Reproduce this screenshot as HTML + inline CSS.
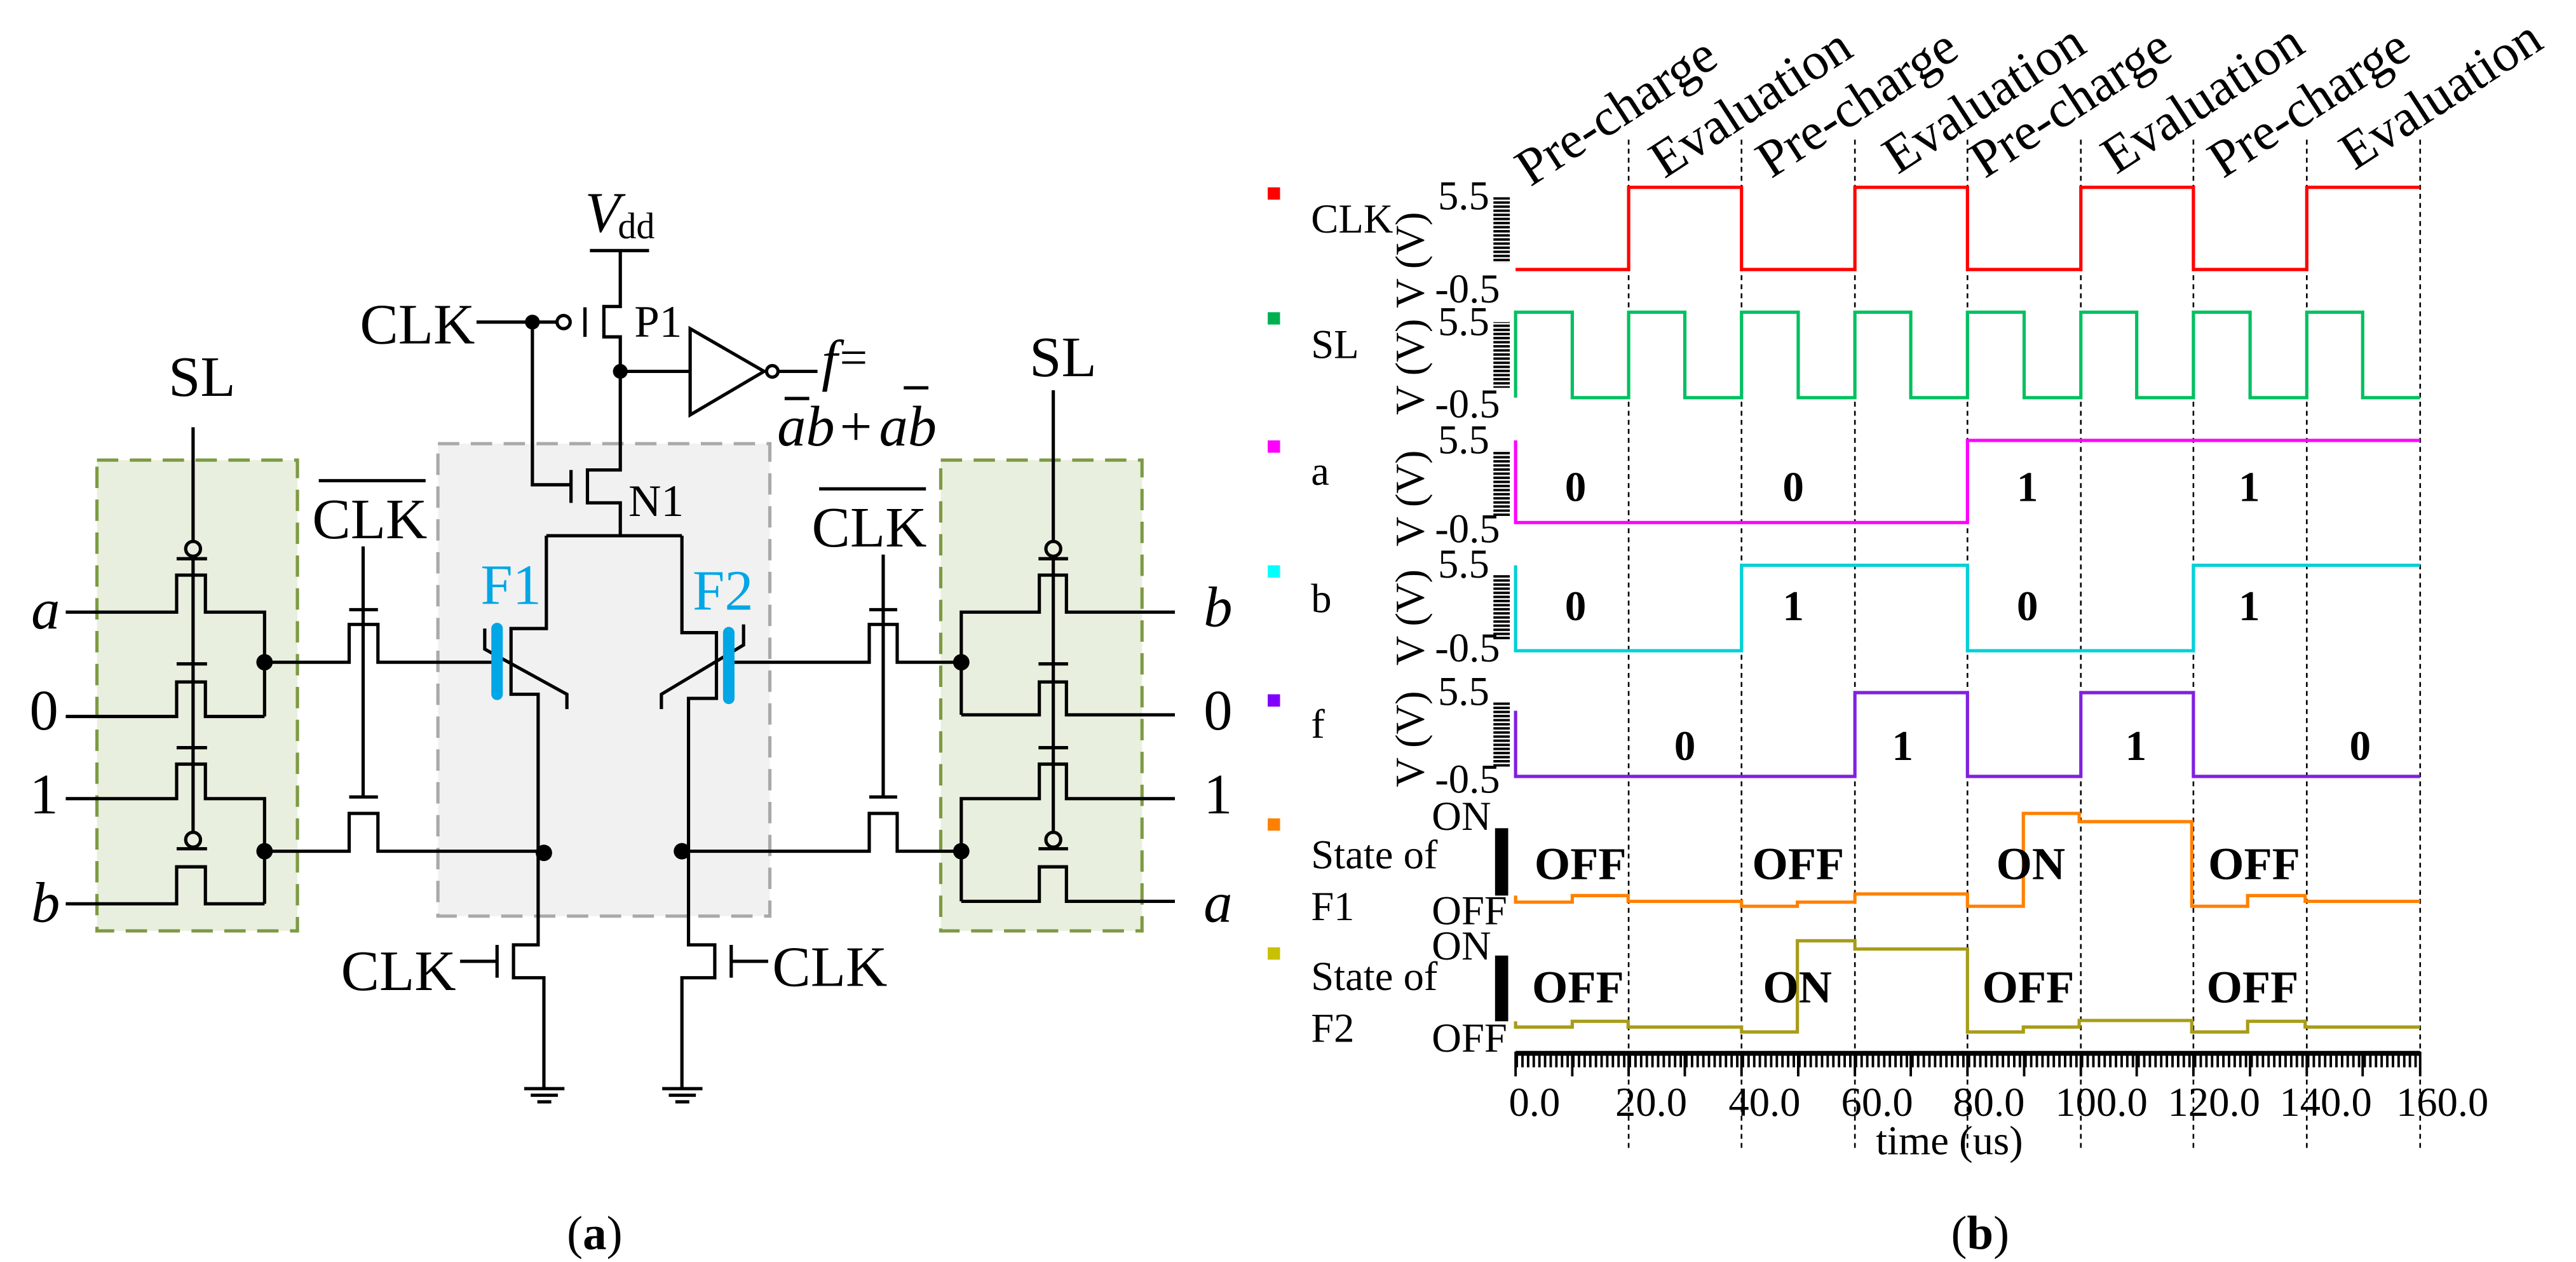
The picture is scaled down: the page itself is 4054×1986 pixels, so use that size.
<!DOCTYPE html>
<html><head><meta charset="utf-8"><style>
html,body{margin:0;padding:0;background:#fff;}
svg{display:block;}
text{font-family:"Liberation Serif",serif;fill:#000;}
</style></head><body>
<svg width="4054" height="1986" viewBox="0 0 4054 1986" xmlns="http://www.w3.org/2000/svg">
<defs>
<pattern id="tk" width="20" height="5" patternUnits="userSpaceOnUse"><rect width="20" height="3" fill="#000"/></pattern>
</defs>
<!-- LEFT PANEL -->
<g transform="scale(1.293)">
<rect x="533" y="540" width="404" height="575" fill="#f1f1f1" stroke="#a9a9a9" stroke-width="4" stroke-dasharray="26,14"/>
<rect x="118" y="560" width="244" height="573" fill="#e9efde" stroke="#7d9a42" stroke-width="4" stroke-dasharray="26,14"/>
<rect x="1145" y="560" width="245" height="573" fill="#e9efde" stroke="#7d9a42" stroke-width="4" stroke-dasharray="26,14"/>
<g fill="none" stroke="#000" stroke-width="4">
<path d="M718 305H790M755 305V373H735V410H755V572H715V612H755V652"/>
<path d="M712 374V410"/>
<circle cx="686" cy="392" r="8"/>
<path d="M580 392H678M648 392V590H695M695 572V612"/>
<path d="M755 452H840"/>
<path d="M840 400L930 452L840 505Z"/>
<circle cx="940" cy="452" r="7"/>
<path d="M947 452H995"/>
<path d="M665 652H830"/>
<path d="M665 652V765H622V845H655V1150H625V1190H662V1325"/>
<path d="M590 765V790L690 845V863"/>
<path d="M830 652V770H872V850H838V1150H870V1190H830V1325"/>
<path d="M905 760V785L805 845V863"/>
<path d="M605 1150V1190M560 1170H605"/>
<path d="M890 1150V1190M890 1170H935"/>
<path d="M638 1325H687M646 1333H679M654 1341H671"/>
<path d="M806 1325H855M814 1333H847M822 1341H839"/>
<path d="M322 806H425V760H460V806H605"/>
<path d="M322 1036H425V990H460V1036H662"/>
<path d="M442 665V742M425 742H460M442 742V970M425 970H460"/>
<path d="M890 806H1058V760H1092V806H1170"/>
<path d="M830 1036H1058V990H1092V1036H1170"/>
<path d="M1075 675V742M1058 742H1092M1075 742V970M1058 970H1092"/>
<path d="M235 520V660M235 677V1013"/>
<circle cx="235" cy="668" r="9"/>
<circle cx="235" cy="1022" r="9"/>
<path d="M215 680H252M215 808H252M215 910H252M215 1033H252"/>
<path d="M80 745H215V700H250V745H322V872"/>
<path d="M80 872H215V830H250V872H322"/>
<path d="M80 972H215V930H250V972H322V1100"/>
<path d="M80 1100H215V1055H250V1100H322"/>
<path d="M1282 475V660M1282 677V1013"/>
<circle cx="1282" cy="668" r="9"/>
<circle cx="1282" cy="1022" r="9"/>
<path d="M1264 680H1300M1264 808H1300M1264 910H1300M1264 1033H1300"/>
<path d="M1170 870V745H1265V700H1298V745H1430"/>
<path d="M1170 870H1265V830H1298V870H1430"/>
<path d="M1170 1097V972H1265V930H1298V972H1430"/>
<path d="M1170 1097H1265V1055H1298V1097H1430"/>
<path d="M388 585H518M997 595H1127"/>
<path d="M955 485H985M1100 472H1130"/>
</g>
<g stroke="#00a6e6" stroke-width="14" stroke-linecap="round">
<path d="M605 765V845M887 770V850"/>
</g>
<g fill="#000">
<circle cx="648" cy="392" r="9"/><circle cx="755" cy="452" r="9"/>
<circle cx="322" cy="806" r="10"/><circle cx="322" cy="1036" r="10"/>
<circle cx="662" cy="1038" r="10"/><circle cx="830" cy="1036" r="10"/>
<circle cx="1170" cy="806" r="10"/><circle cx="1170" cy="1036" r="10"/>
</g>
<g font-size="70">
<text x="712" y="282" font-style="italic">V</text><text x="752" y="290" font-size="45">dd</text>
<text x="438" y="418">CLK</text>
<text x="772" y="410" font-size="55">P1</text>
<text x="1000" y="462" font-style="italic">f</text><text x="1022" y="455" font-size="60">=</text>
<text x="946" y="542" font-style="italic">ab</text><text x="1022" y="542">+</text><text x="1070" y="542" font-style="italic">ab</text>
<text x="765" y="628" font-size="55">N1</text>
<text x="205" y="482">SL</text>
<text x="1253" y="458">SL</text>
<text x="380" y="655">CLK</text>
<text x="988" y="665">CLK</text>
<text x="585" y="735" style="fill:#00a6e6">F1</text>
<text x="843" y="742" style="fill:#00a6e6">F2</text>
<text x="38" y="765" font-style="italic">a</text>
<text x="36" y="888">0</text>
<text x="36" y="990">1</text>
<text x="38" y="1122" font-style="italic">b</text>
<text x="1465" y="762" font-style="italic">b</text>
<text x="1465" y="888">0</text>
<text x="1465" y="990">1</text>
<text x="1465" y="1122" font-style="italic">a</text>
<text x="415" y="1205">CLK</text>
<text x="940" y="1200">CLK</text>
<text x="690" y="1520" font-size="58">(<tspan font-weight="bold">a</tspan>)</text>
</g>
<rect x="1543" y="228" width="15" height="15" fill="#f00"/>
<rect x="1543" y="380" width="15" height="15" fill="#00b050"/>
<rect x="1543" y="536" width="15" height="15" fill="#f0f"/>
<rect x="1543" y="688" width="15" height="15" fill="#0ff"/>
<rect x="1543" y="845" width="15" height="15" fill="#8000ff"/>
<rect x="1543" y="996" width="15" height="15" fill="#ff8000"/>
<rect x="1543" y="1153" width="15" height="15" fill="#c8c000"/>
</g>
<!-- RIGHT PANEL -->
<g transform="translate(2027,0) scale(1.293)">
<g stroke="#000" stroke-width="2" stroke-dasharray="6,5">
<path d="M414.6 170V1400M552 170V1400M690 170V1400M827 170V1400M965 170V1400M1102 170V1400M1240 170V1400M1378 170V1400"/>
</g>
<g font-size="64">
<text transform="translate(295,228) rotate(-33)">Pre-charge</text>
<text transform="translate(458,218) rotate(-33)">Evaluation</text>
<text transform="translate(588,218) rotate(-33)">Pre-charge</text>
<text transform="translate(742,213) rotate(-33)">Evaluation</text>
<text transform="translate(848,218) rotate(-33)">Pre-charge</text>
<text transform="translate(1008,213) rotate(-33)">Evaluation</text>
<text transform="translate(1138,218) rotate(-33)">Pre-charge</text>
<text transform="translate(1298,208) rotate(-33)">Evaluation</text>
</g>
<g fill="none" stroke-width="4">
<path stroke="#f00" d="M277 328H414.6V228H552V328H690V228H827V328H965V228H1102V328H1240V228H1378"/>
<path stroke="#00c060" d="M277 484V380H346V484H414.6V380H483V484H552V380H621V484H690V380H758V484H827V380H896V484H965V380H1033V484H1102V380H1171V484H1240V380H1308V484H1378"/>
<path stroke="#f0f" d="M277 536V636H827V536H1378"/>
<path stroke="#00d0d8" d="M277 688V792H552V688H827V792H1102V688H1378"/>
<path stroke="#8020e0" d="M277 865V945H690V843H827V945H965V843H1102V945H1378"/>
<path stroke="#ff8000" d="M277 1090V1098H346V1090H414V1097H552V1103H620V1098H690V1088H827V1103H895V990H963V1000H1100V1103H1168V1090H1238V1097H1378"/>
<path stroke="#a89c18" d="M277 1243V1250H346V1243H414V1250H552V1256H620V1145H690V1155H827V1256H895V1250H963V1242H1100V1256H1168V1243H1238V1250H1378"/>
</g>
<g fill="url(#tk)">
<rect x="250" y="240" width="20" height="80"/>
<rect x="250" y="392" width="20" height="80"/>
<rect x="250" y="548" width="20" height="80"/>
<rect x="250" y="700" width="20" height="80"/>
<rect x="250" y="855" width="20" height="80"/>
</g>
<rect x="252" y="1008" width="16" height="82" fill="#000"/>
<rect x="252" y="1163" width="16" height="80" fill="#000"/>
<path d="M277 1282H1378" stroke="#000" stroke-width="6"/>
<g stroke="#000" stroke-width="3">
<path d="M277 1280V1310M346 1280V1310M414.6 1280V1310M483 1280V1310M552 1280V1310M621 1280V1310M690 1280V1310M758 1280V1310M827 1280V1310M896 1280V1310M965 1280V1310M1033 1280V1310M1102 1280V1310M1171 1280V1310M1240 1280V1310M1308 1280V1310M1378 1280V1310"/>
</g>
<path d="M277 1290H1378" stroke="#000" stroke-width="18" stroke-dasharray="3,3.88"/>
<g font-size="50">
<g text-anchor="end">
<text x="245" y="255">5.5</text><text x="258" y="368">-0.5</text>
<text x="245" y="408">5.5</text><text x="258" y="508">-0.5</text>
<text x="245" y="552">5.5</text><text x="258" y="660">-0.5</text>
<text x="245" y="703">5.5</text><text x="258" y="805">-0.5</text>
<text x="245" y="858">5.5</text><text x="258" y="965">-0.5</text>
</g>
<text transform="translate(165,375) rotate(-90)">V (V)</text>
<text transform="translate(165,505) rotate(-90)">V (V)</text>
<text transform="translate(165,665) rotate(-90)">V (V)</text>
<text transform="translate(165,810) rotate(-90)">V (V)</text>
<text transform="translate(165,958) rotate(-90)">V (V)</text>
<text x="28" y="283">CLK</text>
<text x="28" y="436">SL</text>
<text x="28" y="590">a</text>
<text x="28" y="745">b</text>
<text x="28" y="898">f</text>
<text x="28" y="1057">State of</text>
<text x="28" y="1120">F1</text>
<text x="28" y="1205">State of</text>
<text x="28" y="1268">F2</text>
<text x="175" y="1010">ON</text><text x="175" y="1125">OFF</text>
<text x="175" y="1168">ON</text><text x="175" y="1280">OFF</text>
<g text-anchor="middle">
<text x="300" y="1358">0.0</text><text x="442" y="1358">20.0</text><text x="580" y="1358">40.0</text>
<text x="717" y="1358">60.0</text><text x="853" y="1358">80.0</text><text x="990" y="1358">100.0</text>
<text x="1127" y="1358">120.0</text><text x="1263" y="1358">140.0</text><text x="1405" y="1358">160.0</text>
<text x="805" y="1405">time (us)</text>
</g>
</g>
<g font-size="52" font-weight="bold" text-anchor="middle">
<text x="350" y="610">0</text><text x="615" y="610">0</text><text x="900" y="610">1</text><text x="1170" y="610">1</text>
<text x="350" y="755">0</text><text x="615" y="755">1</text><text x="900" y="755">0</text><text x="1170" y="755">1</text>
<text x="483" y="925">0</text><text x="748" y="925">1</text><text x="1032" y="925">1</text><text x="1305" y="925">0</text>
</g>
<g font-size="56" font-weight="bold">
<text x="300" y="1070">OFF</text><text x="565" y="1070">OFF</text><text x="862" y="1070">ON</text><text x="1120" y="1070">OFF</text>
<text x="297" y="1220">OFF</text><text x="578" y="1220">ON</text><text x="845" y="1220">OFF</text><text x="1118" y="1220">OFF</text>
</g>
<text x="807" y="1520" font-size="58">(<tspan font-weight="bold">b</tspan>)</text>
</g>
</svg>
</body></html>
